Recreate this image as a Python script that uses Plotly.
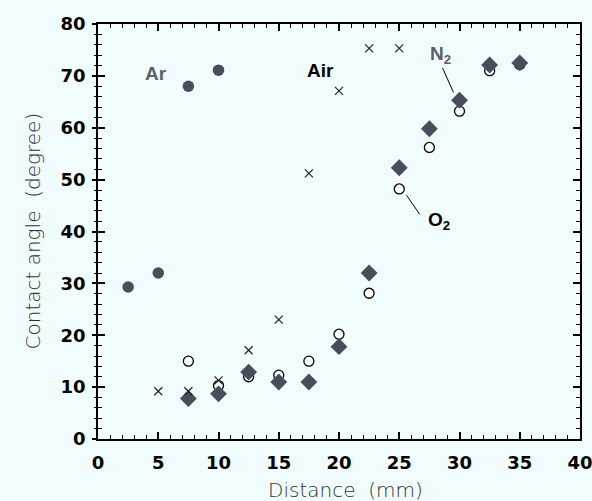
import plotly.graph_objects as go

# Data
ar_x = [2.5, 5, 7.5, 10]
ar_y = [29.3, 32.0, 68.0, 71.1]

air_x = [5, 7.5, 10, 12.5, 15, 17.5, 20, 22.5, 25]
air_y = [9.2, 9.2, 11.3, 17.1, 23.0, 51.2, 67.1, 75.3, 75.3]

n2_x = [7.5, 10, 12.5, 15, 17.5, 20, 22.5, 25, 27.5, 30, 32.5, 35]
n2_y = [7.8, 8.7, 12.9, 11.0, 11.0, 17.8, 32.0, 52.3, 59.8, 65.3, 72.1, 72.5]

o2_x = [7.5, 10, 12.5, 15, 17.5, 20, 22.5, 25, 27.5, 30, 32.5, 35]
o2_y = [15.0, 10.3, 12.0, 12.3, 15.0, 20.2, 28.1, 48.2, 56.2, 63.2, 71.0, 72.2]

x_ticks = [0, 5, 10, 15, 20, 25, 30, 35, 40]
y_ticks = [0, 10, 20, 30, 40, 50, 60, 70, 80]

BG = "#f0fcfd"
DARK = "#474d5a"

fig = go.Figure()
fig.add_trace(go.Scatter(x=o2_x, y=o2_y, mode="markers", name="O2",
                         marker=dict(symbol="circle", size=10, color="white",
                                     line=dict(color="black", width=1.3))))
fig.add_trace(go.Scatter(x=n2_x, y=n2_y, mode="markers", name="N2",
                         marker=dict(symbol="diamond", size=13, color=DARK,
                                     line=dict(width=0))))
fig.add_trace(go.Scatter(x=ar_x, y=ar_y, mode="markers", name="Ar",
                         marker=dict(symbol="circle", size=11.5, color=DARK,
                                     line=dict(width=0))))
fig.add_trace(go.Scatter(x=air_x, y=air_y, mode="markers", name="Air",
                         marker=dict(symbol="x-thin-open", size=8, color="#222",
                                     line=dict(color="#222", width=1.2))))

tickfont = dict(family="DejaVu Sans", size=18, color="black", weight="bold")
axis_common = dict(showgrid=False, zeroline=False, showline=True, linecolor="black",
                   linewidth=1.5, mirror="ticks", ticks="inside", tickcolor="black",
                   tickwidth=1.5, ticklen=7, tickfont=tickfont, automargin=False,
                   ticklabeloverflow="allow")

fig.update_layout(
    width=592, height=501,
    margin=dict(l=98, r=12, t=24, b=62),
    paper_bgcolor=BG, plot_bgcolor=BG,
    showlegend=False,
    xaxis=dict(range=[0, 40], tickvals=x_ticks, ticktext=[str(v) for v in x_ticks],
               minor=dict(dtick=1, ticklen=4, ticks="inside", tickcolor="black", tickwidth=1.2),
               ticklabelstandoff=7,
               **axis_common),
    yaxis=dict(range=[0, 80], tickvals=y_ticks, ticktext=[str(v) for v in y_ticks],
               minor=dict(dtick=2, ticklen=4, ticks="inside", tickcolor="black", tickwidth=1.2),
               ticklabelstandoff=7,
               **axis_common),
    yaxis2=dict(range=[0, 80], overlaying="y", side="left", showticklabels=False,
                tickvals=y_ticks, ticks="outside", ticklen=5, tickwidth=1.5, tickcolor="black",
                minor=dict(dtick=2, ticklen=3, ticks="outside", tickcolor="black", tickwidth=1.2),
                showgrid=False, zeroline=False, showline=False, automargin=False),
)
# dummy trace for yaxis2
fig.add_trace(go.Scatter(x=[None], y=[None], yaxis="y2", showlegend=False, hoverinfo="skip"))

title_font = dict(family="DejaVu Sans", size=20, color="#303030", weight=300)
fig.add_annotation(xref="paper", yref="paper", x=0.5, y=0, xshift=6, yshift=-51,
                   xanchor="center", yanchor="middle",
                   text="Distance  (mm)", showarrow=False, font=title_font)
fig.add_annotation(xref="paper", yref="paper", x=0, y=0.5, xshift=-66, textangle=-90,
                   xanchor="center", yanchor="middle",
                   text="Contact angle  (degree)", showarrow=False, font=title_font)

ann_font = dict(family="Liberation Sans, Arial", size=19, weight="bold")
fig.add_annotation(x=4.8, y=70.5, text="Ar", showarrow=False, font=dict(color="#5a5f6a", **ann_font))
fig.add_annotation(x=18.5, y=71, text="Air", showarrow=False, font=dict(color="black", **ann_font))
fig.add_annotation(x=28.4, y=74.0, text="N<sub>2</sub>", showarrow=False, font=dict(color="#5a5f6a", **ann_font))
fig.add_annotation(x=28.3, y=42.0, text="O<sub>2</sub>", showarrow=False, font=dict(color="black", **ann_font))
fig.add_shape(type="line", x0=28.6, y0=71.5, x1=29.5, y1=66.8, line=dict(color="black", width=1))
fig.add_shape(type="line", x0=25.6, y0=47.0, x1=26.7, y1=43.3, line=dict(color="black", width=1))

fig.write_html("out.html", config={"displayModeBar": False},
               post_script="document.body.style.margin='0';document.body.style.overflow='hidden';")
